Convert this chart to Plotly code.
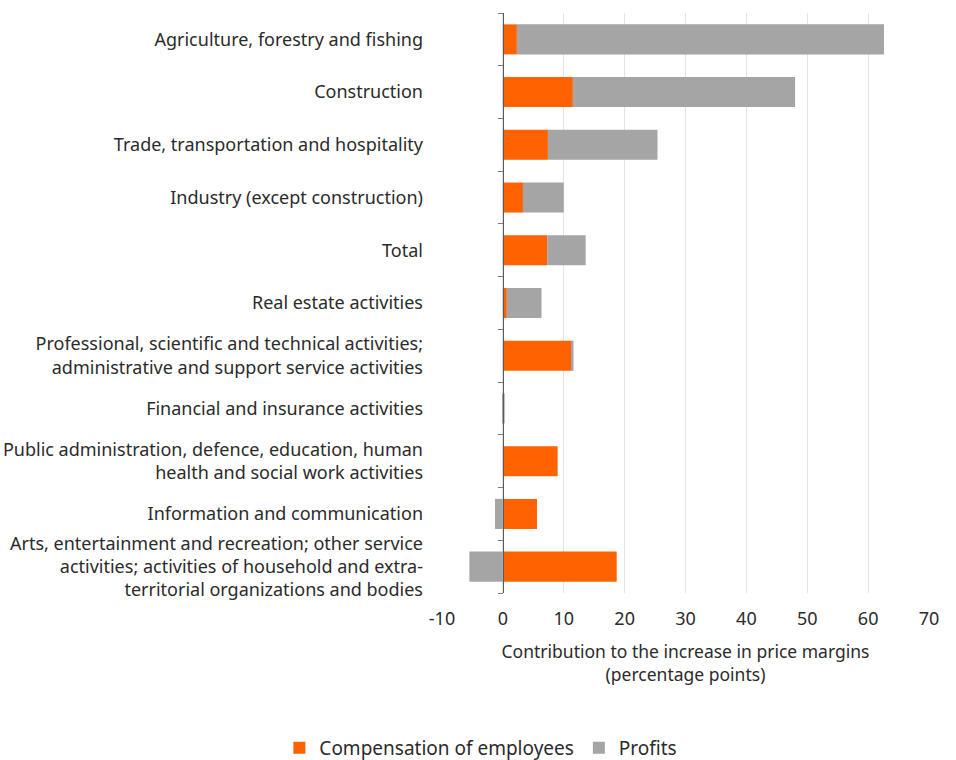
import plotly.graph_objects as go

# Sectors, listed top to bottom
sectors = [
    "Agriculture, forestry and fishing",
    "Construction",
    "Trade, transportation and hospitality",
    "Industry (except construction)",
    "Total",
    "Real estate activities",
    "Professional, scientific and technical activities;<br>administrative and support service activities",
    "Financial and insurance activities",
    "Public administration, defence, education, human<br>health and social work activities",
    "Information and communication",
    "Arts, entertainment and recreation; other service<br>activities; activities of household and extra-<br>territorial organizations and bodies",
]

# Contributions to the increase in price margins (percentage points)
compensation = [2.3, 11.5, 7.4, 3.3, 7.3, 0.65, 11.3, 0.0, 9.0, 5.6, 18.7]
profits = [60.3, 36.5, 18.0, 6.7, 6.3, 5.7, 0.3, 0.3, 0.0, -1.3, -5.5]

x_ticks = [-10, 0, 10, 20, 30, 40, 50, 60, 70]
x_tick_labels = ["-10", "0", "10", "20", "30", "40", "50", "60", "70"]
x_range = [-10, 70]

ORANGE = "#FF6200"
GREY = "#A5A5A5"
TEXT = "#2B2B2B"
FONT = "Noto Sans"

fig = go.Figure()
fig.add_trace(go.Bar(
    y=sectors, x=compensation, orientation="h",
    name="Compensation of employees", marker=dict(color=ORANGE, line_width=0),
))
fig.add_trace(go.Bar(
    y=sectors, x=profits, orientation="h",
    name="Profits", marker=dict(color=GREY, line_width=0),
))

n = len(sectors)
# anchor trace so the zero-line axis (y2) is drawn
fig.add_trace(go.Scatter(
    x=[0], y=[0], yaxis="y2", mode="markers",
    marker=dict(size=1, opacity=0), showlegend=False, hoverinfo="skip",
))

# position of the zero line within the plot width
zero_pos = (0 - x_range[0]) / (x_range[1] - x_range[0])

fig.update_layout(
    width=956, height=760,
    barmode="relative", bargap=0.43,
    plot_bgcolor="white", paper_bgcolor="white",
    margin=dict(l=442, r=27, t=13, b=167, autoexpand=False),
    font=dict(family=FONT, size=18, color=TEXT),
    xaxis=dict(
        range=x_range, tickvals=x_ticks, ticktext=x_tick_labels,
        showgrid=True, gridcolor="#E3E3E3",
        gridwidth=1, zeroline=False, showline=False, ticks="",
        ticklabelstandoff=13, automargin=False,
        tickfont=dict(size=18, color=TEXT),
        title=dict(text="Contribution to the increase in price margins<br>(percentage points)",
                   font=dict(size=17.5, color=TEXT), standoff=16),
    ),
    yaxis=dict(
        type="category", autorange="reversed", showgrid=False, zeroline=False,
        showline=False, ticks="", ticklabelstandoff=18, automargin=False,
        tickfont=dict(size=18, color=TEXT),
    ),
    yaxis2=dict(
        overlaying="y", anchor="free", position=zero_pos, side="left",
        range=[n - 0.5, -0.5], tickvals=[k - 0.5 for k in range(n + 1)],
        showticklabels=False, ticks="outside", ticklen=5, tickcolor="#7F7F7F",
        showline=True, linecolor="#595959", linewidth=1, showgrid=False,
        zeroline=False, automargin=False,
    ),
    legend=dict(
        orientation="h", xref="container", yref="container",
        x=0.503, y=0.016, xanchor="center", yanchor="middle",
        font=dict(size=19, color=TEXT), itemwidth=30, traceorder="normal",
    ),
)

fig.write_html("out.html")
